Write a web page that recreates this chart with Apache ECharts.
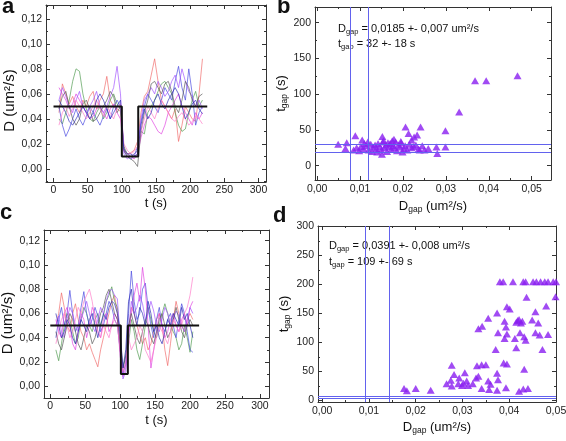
<!DOCTYPE html>
<html><head><meta charset="utf-8">
<script src="https://cdn.jsdelivr.net/npm/echarts@6/dist/echarts.min.js"></script>
<style>html,body{margin:0;padding:0;background:#fff}#c{width:566px;height:441px}</style>
</head><body><div id="c"></div>
<script>
// ---------- Panel a: D(t) traces ----------
const aT = [8,13,18,23,28,33,38,43,48,53,58,63,68,73,78,83,88,93,98,103,108,113,118,123,128,133,138,143,148,153,158,163,168,173,178,183,188,193,198,203,208,213,218];
const aLine1 = [0.045,0.068,0.060,0.052,0.058,0.050,0.045,0.055,0.050,0.058,0.062,0.048,0.055,0.060,0.074,0.055,0.050,0.048,0.046,0.016,0.012,0.013,0.015,0.022,0.045,0.058,0.062,0.075,0.088,0.070,0.055,0.050,0.045,0.040,0.048,0.022,0.035,0.050,0.045,0.040,0.038,0.060,0.088];
const aLine2 = [0.040,0.036,0.045,0.055,0.070,0.080,0.078,0.060,0.048,0.040,0.038,0.045,0.050,0.040,0.045,0.055,0.060,0.052,0.048,0.018,0.012,0.010,0.012,0.015,0.030,0.028,0.045,0.050,0.055,0.062,0.068,0.070,0.065,0.060,0.045,0.035,0.030,0.032,0.045,0.055,0.062,0.050,0.055];
const aLine3 = [0.050,0.035,0.026,0.032,0.040,0.048,0.040,0.035,0.042,0.050,0.045,0.040,0.035,0.042,0.048,0.040,0.050,0.055,0.050,0.014,0.010,0.008,0.010,0.018,0.038,0.050,0.060,0.055,0.050,0.045,0.055,0.065,0.060,0.055,0.070,0.082,0.065,0.055,0.080,0.060,0.035,0.045,0.050];
const aLine4 = [0.065,0.060,0.055,0.048,0.052,0.060,0.055,0.050,0.045,0.040,0.042,0.048,0.050,0.045,0.040,0.048,0.052,0.045,0.040,0.015,0.012,0.010,0.008,0.012,0.025,0.035,0.042,0.040,0.035,0.030,0.028,0.035,0.045,0.050,0.055,0.060,0.050,0.045,0.040,0.035,0.045,0.040,0.045];
const aLine5 = [0.055,0.065,0.058,0.050,0.045,0.055,0.062,0.050,0.045,0.050,0.055,0.062,0.050,0.045,0.050,0.058,0.065,0.082,0.060,0.012,0.008,0.010,0.012,0.014,0.040,0.055,0.060,0.065,0.060,0.070,0.065,0.058,0.062,0.070,0.075,0.065,0.080,0.070,0.062,0.058,0.050,0.055,0.048];
const aLine6 = [0.048,0.058,0.062,0.050,0.040,0.035,0.040,0.052,0.055,0.048,0.038,0.040,0.045,0.050,0.055,0.062,0.058,0.045,0.050,0.015,0.010,0.008,0.006,0.002,0.030,0.045,0.055,0.068,0.070,0.065,0.060,0.068,0.070,0.062,0.050,0.045,0.055,0.070,0.065,0.055,0.050,0.058,0.060];
const aLine7 = [0.035,0.045,0.050,0.042,0.048,0.055,0.050,0.045,0.040,0.045,0.050,0.055,0.048,0.042,0.050,0.045,0.040,0.048,0.052,0.020,0.015,0.012,0.014,0.018,0.030,0.040,0.050,0.045,0.040,0.048,0.055,0.050,0.045,0.040,0.038,0.042,0.045,0.040,0.035,0.038,0.042,0.040,0.036];
const aLine8 = [0.055,0.050,0.045,0.038,0.035,0.040,0.045,0.050,0.045,0.040,0.045,0.055,0.060,0.055,0.048,0.040,0.045,0.050,0.055,0.016,0.012,0.012,0.010,0.012,0.035,0.048,0.040,0.045,0.055,0.060,0.052,0.048,0.055,0.060,0.065,0.060,0.050,0.040,0.045,0.052,0.055,0.048,0.044];
const aStepT = [0,100,100,124,124,225];
const aStepD = [0.05,0.05,0.01,0.01,0.05,0.05];

// ---------- Panel c: D(t) traces ----------
const cT = [8,12,16,20,24,28,32,36,40,44,48,52,56,60,64,68,72,76,80,84,88,92,96,100,104,108,112,116,120,124,128,132,136,140,144,148,152,156,160,164,168,172,176,180,184,188,192,196,200,204];
const cLine1 = [0.050,0.060,0.077,0.065,0.050,0.045,0.060,0.068,0.055,0.045,0.040,0.030,0.035,0.028,0.022,0.016,0.030,0.040,0.050,0.060,0.070,0.075,0.060,0.030,0.012,0.018,0.045,0.065,0.060,0.050,0.042,0.035,0.040,0.030,0.035,0.045,0.055,0.060,0.050,0.030,0.017,0.035,0.055,0.070,0.060,0.050,0.045,0.055,0.060,0.055];
const cLine2 = [0.030,0.021,0.035,0.050,0.060,0.055,0.045,0.035,0.040,0.055,0.065,0.060,0.050,0.045,0.055,0.060,0.050,0.058,0.070,0.075,0.082,0.070,0.065,0.040,0.015,0.025,0.035,0.055,0.045,0.030,0.022,0.035,0.050,0.065,0.055,0.045,0.040,0.050,0.060,0.068,0.060,0.050,0.045,0.040,0.030,0.035,0.050,0.040,0.028,0.045];
const cLine3 = [0.040,0.055,0.065,0.050,0.060,0.079,0.060,0.045,0.050,0.065,0.078,0.060,0.050,0.055,0.065,0.058,0.045,0.050,0.060,0.070,0.065,0.055,0.050,0.030,0.010,0.020,0.060,0.095,0.070,0.055,0.060,0.080,0.085,0.065,0.050,0.040,0.055,0.065,0.050,0.045,0.055,0.060,0.050,0.040,0.055,0.068,0.060,0.045,0.030,0.028];
const cLine4 = [0.055,0.045,0.040,0.060,0.065,0.050,0.035,0.030,0.045,0.060,0.055,0.040,0.050,0.065,0.060,0.045,0.040,0.055,0.060,0.045,0.050,0.060,0.055,0.025,0.008,0.015,0.040,0.060,0.075,0.085,0.070,0.098,0.080,0.050,0.015,0.030,0.045,0.060,0.050,0.040,0.045,0.055,0.060,0.050,0.045,0.055,0.060,0.050,0.065,0.070];
const cLine5 = [0.050,0.058,0.045,0.040,0.055,0.065,0.060,0.050,0.045,0.055,0.062,0.070,0.060,0.050,0.045,0.055,0.065,0.060,0.070,0.078,0.080,0.075,0.072,0.040,0.006,0.012,0.045,0.070,0.060,0.065,0.075,0.068,0.055,0.060,0.070,0.062,0.050,0.045,0.055,0.065,0.060,0.050,0.055,0.062,0.058,0.050,0.045,0.055,0.065,0.060];
const cLine6 = [0.045,0.035,0.030,0.040,0.050,0.060,0.055,0.045,0.035,0.030,0.040,0.050,0.045,0.035,0.040,0.050,0.060,0.065,0.075,0.080,0.070,0.060,0.055,0.035,0.015,0.025,0.050,0.060,0.050,0.040,0.035,0.045,0.055,0.050,0.040,0.035,0.045,0.055,0.060,0.050,0.040,0.045,0.055,0.065,0.055,0.045,0.040,0.050,0.055,0.050];
const cLine7 = [0.035,0.045,0.055,0.060,0.050,0.040,0.045,0.055,0.065,0.060,0.070,0.075,0.080,0.070,0.055,0.045,0.040,0.050,0.045,0.040,0.050,0.055,0.050,0.030,0.012,0.020,0.040,0.030,0.035,0.040,0.050,0.045,0.030,0.025,0.020,0.030,0.040,0.050,0.045,0.040,0.035,0.045,0.055,0.050,0.045,0.050,0.060,0.065,0.075,0.090];
const cLine8 = [0.060,0.050,0.040,0.045,0.055,0.050,0.040,0.035,0.045,0.055,0.050,0.045,0.055,0.060,0.050,0.040,0.050,0.060,0.055,0.065,0.070,0.068,0.060,0.045,0.015,0.030,0.070,0.080,0.060,0.050,0.065,0.060,0.050,0.070,0.060,0.045,0.050,0.040,0.035,0.045,0.055,0.050,0.060,0.055,0.050,0.065,0.055,0.060,0.050,0.040];
const cStepT = [0,101,101,111,111,213];
const cStepD = [0.05,0.05,0.01,0.01,0.05,0.05];

const traceColors = ['#f06a6a','#4f9a4f','#4545e0','#e040e0','#a050ff','#555555','#ff7ac8','#2a2ab4'];

// ---------- Panel b: t_gap vs D_gap ----------
const bPoints = [[0.0467,126],[0.0368,119],[0.0394,119],[0.0331,75],[0.0299,49],[0.0206,54],[0.0241,54],[0.0213,45],[0.0233,43],[0.0226,40],[0.0089,42],[0.0152,41],[0.0105,36],[0.0179,37],[0.0220,36],[0.0049,30],[0.0069,32],[0.0066,24],[0.0259,24],[0.0278,26],[0.0299,26],[0.0280,17],[0.0151,16],[0.0239,22],[0.0110,31],
 [0.0085,22],[0.0092,25],[0.0098,21],[0.0102,27],[0.0108,24],[0.0115,28],[0.0120,22],[0.0125,30],[0.0130,26],[0.0135,29],[0.0138,24],[0.0142,31],[0.0146,27],[0.0150,22],[0.0153,33],[0.0157,25],[0.0160,29],[0.0163,20],[0.0167,27],[0.0170,31],[0.0173,23],[0.0177,28],[0.0180,25],[0.0183,33],[0.0186,21],[0.0190,29],[0.0193,26],[0.0196,32],[0.0199,19],[0.0202,24],[0.0205,28],[0.0210,22],[0.0215,30],[0.0220,25],[0.0225,27],[0.0230,29],[0.0236,23],[0.0245,28],[0.0250,22],[0.0128,20],[0.0140,19],[0.0118,33],[0.0175,35],[0.0195,34],[0.0155,35],[0.0165,32]];
const bLinesX = [0.00776, 0.01188];
const bLinesY = [30.7, 18.6];

// ---------- Panel d: t_gap vs D_gap ----------
const dPoints = [[0.0380,205],[0.0387,205],[0.0408,205],[0.0430,205],[0.0435,205],[0.0451,205],[0.0458,205],[0.0467,205],[0.0476,205],[0.0483,205],[0.0494,205],[0.0500,205],
 [0.0437,178],[0.0499,179],[0.0479,163],[0.0395,162],[0.0401,158],[0.0374,151],[0.0456,153],[0.0355,142],[0.0390,137],[0.0418,138],[0.0421,140],[0.0425,134],[0.0428,137],[0.0415,135],[0.0449,139],[0.0462,134],[0.0393,127],[0.0342,128],[0.0334,124],
 [0.0376,117],[0.0395,115],[0.0423,117],[0.0456,117],[0.0465,113],[0.0483,114],[0.0390,107],[0.0412,107],[0.0432,110],[0.0435,104],[0.0371,88],[0.0415,91],[0.0471,88],
 [0.0277,61],[0.0331,60],[0.0341,62],[0.0350,62],[0.0388,65],[0.0395,63],[0.0432,54],[0.0282,45],[0.0305,48],[0.0275,35],[0.0293,39],[0.0266,29],[0.0277,25],[0.0291,29],[0.0302,30],[0.0309,34],[0.0312,26],[0.0299,26],[0.0322,29],[0.0329,39],[0.0334,42],[0.0355,34],[0.0360,28],[0.0357,19],[0.0341,21],[0.0374,47],[0.0376,36],[0.0374,18],[0.0393,22],[0.0421,16],[0.0430,20],[0.0440,21],[0.0175,21],[0.0181,17],[0.0200,21],[0.0232,18]];
const dLinesX = [0.0091, 0.01437];
const dLinesY = [8.3, 4.8];

// ---------- Tick values ----------
const tMajor = [0,50,100,150,200,250,300];
const tMinor = [25,75,125,175,225,275];
const dMajor = [0,0.02,0.04,0.06,0.08,0.10,0.12];
const dMinor = [-0.01,0.01,0.03,0.05,0.07,0.09,0.11,0.13];
const gapMajor = [0,0.01,0.02,0.03,0.04,0.05];
const gapMinorB = [0.005,0.015,0.025,0.035,0.045];
const bTMajor = [0,50,100,150,200];
const bTMinor = [25,75,125,175];
const dTMajor = [0,50,100,150,200,250,300];
const dTMinor = [25,75,125,175,225,275];

const FONT = "'Liberation Sans', Arial, sans-serif";
const comma = d => v => v.toFixed(d).replace('.', ',');
const intFmt = v => String(Math.round(v));
const subRich = (sz, sub) => ({a:{fontSize:sz, fontFamily:FONT, color:'#111', lineHeight:sz+3, verticalAlign:'middle'},
  s:{fontSize:sub, fontFamily:FONT, color:'#111', lineHeight:4, verticalAlign:'bottom'}});

function mkAxes(dim, g, o) {
  const posMain = dim === 'x' ? 'bottom' : 'left';
  const posOpp = dim === 'x' ? 'top' : 'right';
  const base = {type:'value', gridIndex:g, min:o.min, max:o.max, splitLine:{show:false}, splitArea:{show:false}};
  const line = {show:true, onZero:false, lineStyle:{color:'#333', width:1}};
  const noLine = {show:false, onZero:false};
  const tick = (vals, len) => ({show:true, inside:true, length:len, customValues:vals, lineStyle:{color:'#333', width:1}});
  const main = Object.assign({}, base, {position:posMain, axisLine:line, axisTick:tick(o.major, 4),
    axisLabel:{show:true, customValues:o.major, formatter:o.fmt, color:'#222', fontSize:10.5, fontFamily:FONT, margin:o.margin},
    name:o.name, nameLocation:'middle', nameGap:o.nameGap, nameRotate: dim === 'y' ? 90 : 0,
    nameTextStyle:{fontSize:o.nameSize || 13, color:'#111', fontFamily:FONT, rich:o.rich, padding:o.namePad || 0}});
  const mainMinor = Object.assign({}, base, {position:posMain, axisLine:noLine, axisTick:tick(o.minor, 2), axisLabel:{show:false}});
  const opp = Object.assign({}, base, {position:posOpp, axisLine:line, axisTick:tick(o.major, 4), axisLabel:{show:false}});
  const oppMinor = Object.assign({}, base, {position:posOpp, axisLine:noLine, axisTick:tick(o.minor, 2), axisLabel:{show:false}});
  return [main, mainMinor, opp, oppMinor];
}

const xAxes = [].concat(
  mkAxes('x', 0, {min:-11, max:311, major:tMajor, minor:tMinor, fmt:intFmt, margin:3, name:'t (s)', nameGap:14, nameSize:13}),
  mkAxes('x', 1, {min:-0.0005, max:0.0545, major:gapMajor, minor:gapMinorB, fmt:comma(2), margin:4, name:'{a|D}{s|gap}{a| (um²/s)}', nameGap:18, rich:subRich(13,8.5)}),
  mkAxes('x', 2, {min:-9, max:313, major:tMajor, minor:tMinor, fmt:intFmt, margin:3, name:'t (s)', nameGap:16, nameSize:13}),
  mkAxes('x', 3, {min:-0.0009, max:0.05, major:gapMajor, minor:gapMinorB.slice(0,4), fmt:comma(2), margin:4, name:'{a|D}{s|gap}{a| (um²/s)}', nameGap:17, rich:subRich(13,8.5)})
);
const yAxes = [].concat(
  mkAxes('y', 0, {min:-0.0104, max:0.131, major:dMajor, minor:dMinor, fmt:comma(2), margin:4, name:'D (um²/s)', nameGap:28, nameSize:15, namePad:[0,14,0,0]}),
  mkAxes('y', 1, {min:-20, max:222, major:bTMajor, minor:bTMinor, fmt:intFmt, margin:4, name:'{a|t}{s|gap}{a| (s)}', nameGap:19, rich:subRich(13,8.5)}),
  mkAxes('y', 2, {min:-0.0097, max:0.1288, major:dMajor, minor:dMinor, fmt:comma(2), margin:4, name:'D (um²/s)', nameGap:26, nameSize:15, namePad:[0,18,0,0]}),
  mkAxes('y', 3, {min:-2.4, max:301, major:dTMajor, minor:dTMinor, fmt:intFmt, margin:4, name:'{a|t}{s|gap}{a| (s)}', nameGap:19, rich:subRich(13,8.5)})
);

const series = [];
const aLines = [aLine1,aLine2,aLine3,aLine4,aLine5,aLine6,aLine7,aLine8];
const cLines = [cLine1,cLine2,cLine3,cLine4,cLine5,cLine6,cLine7,cLine8];
aLines.forEach((arr, k) => series.push({type:'line', xAxisIndex:0, yAxisIndex:0, symbol:'none', silent:true, z:2,
  lineStyle:{width:0.8, color:traceColors[k], opacity:0.85}, data: aT.map((t, i) => [t, arr[i]])}));
series.push({type:'line', xAxisIndex:0, yAxisIndex:0, symbol:'none', silent:true, z:5,
  lineStyle:{width:2, color:'#111'}, data: aStepT.map((t, i) => [t, aStepD[i]])});
cLines.forEach((arr, k) => series.push({type:'line', xAxisIndex:8, yAxisIndex:8, symbol:'none', silent:true, z:2,
  lineStyle:{width:0.8, color:traceColors[k], opacity:0.85}, data: cT.map((t, i) => [t, arr[i]])}));
series.push({type:'line', xAxisIndex:8, yAxisIndex:8, symbol:'none', silent:true, z:5,
  lineStyle:{width:2, color:'#111'}, data: cStepT.map((t, i) => [t, cStepD[i]])});

const mk = (xs, ys) => ({silent:true, symbol:'none', animation:false, precision:6, label:{show:false},
  lineStyle:{color:'#6262ee', width:1, type:'solid'},
  data: xs.map(v => ({xAxis:v})).concat(ys.map(v => ({yAxis:v})))});
series.push({type:'scatter', xAxisIndex:4, yAxisIndex:4, data:bPoints, symbol:'triangle', symbolSize:[8,7],
  itemStyle:{color:'#8a1ef0'}, markLine: mk(bLinesX, bLinesY)});
series.push({type:'scatter', xAxisIndex:12, yAxisIndex:12, data:dPoints, symbol:'triangle', symbolSize:[8,7],
  itemStyle:{color:'#8a1ef0'}, markLine: mk(dLinesX, dLinesY)});

const annRich = subRich(11, 7.5);
const txt = (x, y, s, rich, size, bold) => ({type:'text', x:x, y:y, silent:true,
  style:{text:s, rich:rich, fill:'#111', font:(bold?'bold ':'') + size + 'px ' + FONT, verticalAlign:'middle', align:'left'}});

const option = {
  animation:false,
  backgroundColor:'#fff',
  grid:[
    {left:46, top:5, width:220, height:177, outerBoundsMode:'none'},
    {left:315, top:7, width:236, height:173, outerBoundsMode:'none'},
    {left:44, top:230, width:225, height:168, outerBoundsMode:'none'},
    {left:318, top:226, width:238, height:176, outerBoundsMode:'none'}
  ],
  xAxis: xAxes,
  yAxis: yAxes,
  series: series,
  graphic: [
    txt(2, 7, 'a', null, 22, true),
    txt(277, 7, 'b', null, 22, true),
    txt(0, 213, 'c', null, 22, true),
    txt(273, 216, 'd', null, 22, true),
    txt(338, 29, '{a|D}{s|gap}{a| = 0,0185 +- 0,007 um²/s}', annRich, 11),
    txt(338, 44, '{a|t}{s|gap}{a| = 32 +- 18 s}', annRich, 11),
    txt(329, 246, '{a|D}{s|gap}{a| = 0,0391 +- 0,008 um²/s}', annRich, 11),
    txt(329, 262, '{a|t}{s|gap}{a| = 109 +- 69 s}', annRich, 11)
  ]
};
echarts.init(document.getElementById('c')).setOption(option);
</script></body></html>
